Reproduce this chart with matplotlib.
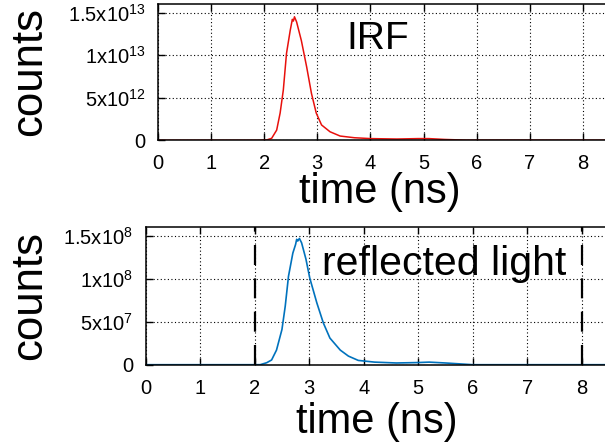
import matplotlib
matplotlib.use('Agg')
import matplotlib.pyplot as plt

plt.rcParams['font.family'] = ['Liberation Sans', 'DejaVu Sans']
plt.rcParams['mathtext.fontset'] = 'custom'
plt.rcParams['mathtext.rm'] = 'Liberation Sans'
plt.rcParams['mathtext.it'] = 'Liberation Sans:italic'
plt.rcParams['mathtext.bf'] = 'Liberation Sans:bold'
plt.rcParams['mathtext.default'] = 'regular'

# data
t_irf = [0, 1.9, 2.05, 2.14, 2.235, 2.30, 2.36, 2.42, 2.49, 2.53, 2.55, 2.57, 2.61,
         2.70, 2.80, 2.89, 2.98, 3.08, 3.24, 3.43, 3.7, 4.0, 4.5, 4.9, 5.1, 5.4, 5.8, 10]
irf = [0, 0, 0.05e12, 0.23e12, 1.2e12, 3.2e12, 5.9e12, 1.02e13, 1.29e13, 1.42e13,
       1.40e13, 1.45e13, 1.39e13, 1.17e13, 8.6e12, 5.5e12, 3.2e12, 1.8e12, 1.0e12,
       0.5e12, 0.3e12, 0.2e12, 0.15e12, 0.2e12, 0.2e12, 0.1e12, 0.02e12, 0]

t_refl = [0, 2.1, 2.22, 2.31, 2.40, 2.50, 2.56, 2.62, 2.70, 2.75, 2.77, 2.79, 2.82,
          2.86, 2.94, 3.01, 3.14, 3.26, 3.38, 3.57, 3.72, 3.9, 4.2, 4.6, 5.0, 5.2,
          5.5, 6.0, 10]
refl = [0, 0, 0.23e7, 0.55e7, 1.7e7, 4.1e7, 6.8e7, 1.03e8, 1.30e8, 1.40e8, 1.46e8,
        1.44e8, 1.47e8, 1.42e8, 1.23e8, 1.01e8, 7.2e7, 4.85e7, 3.1e7, 1.7e7, 1.0e7,
        0.5e7, 0.3e7, 0.2e7, 0.25e7, 0.3e7, 0.2e7, 0, 0]

xticks = list(range(0, 9))
irf_yticks = [0, 5e12, 1e13, 1.5e13]
irf_ylabels = ['0', '5x$10^{12}$', '1x$10^{13}$', '1.5x$10^{13}$']
refl_yticks = [0, 5e7, 1e8, 1.5e8]
refl_ylabels = ['0', '5x$10^{7}$', '1x$10^{8}$', '1.5x$10^{8}$']
gate = [2, 8]

W, H = 605, 445
fig = plt.figure(figsize=(W / 100, H / 100), dpi=100)


def px_axes(left, top, bottom, unit):
    # axes placed in pixel coords, running past the right edge like the cropped original
    return fig.add_axes([left / W, 1 - bottom / H, 10 * unit / W, (bottom - top) / H])


def style(ax, yt, yl, ymax):
    ax.set_xlim(0, 10)
    ax.set_ylim(0, ymax)
    ax.set_xticks(xticks)
    ax.set_yticks(yt)
    ax.set_yticklabels(yl)
    ax.tick_params(direction='in', top=True, right=True, length=5, width=1,
                   labelsize=14.5)
    ax.tick_params(axis='x', pad=10)
    ax.tick_params(axis='y', pad=9)
    ax.grid(True, color='black', linestyle=(0, (1, 2.2)), linewidth=0.8)
    for s in ax.spines.values():
        s.set_linewidth(1.1)


ax1 = px_axes(158, 4, 140.3, 53.1)
ax1.plot(t_irf, irf, color='#e8100c', lw=1.1)
style(ax1, irf_yticks, irf_ylabels, 1.6e13)
ax1.text(3.55, 1.066e13, 'IRF', fontsize=28, va='baseline')

ax2 = px_axes(145.7, 227.3, 364.7, 54.5)
ax2.plot(t_refl, refl, color='#0072bd', lw=1.2)
style(ax2, refl_yticks, refl_ylabels, 1.6e8)
for g in gate:
    ax2.axvline(g, color='black', lw=1.6, linestyle=(0, (9, 6)), zorder=3)
ax2.text(3.23, 1.05e8, 'reflected light', fontsize=29.5, va='baseline')

fig.text(30 / W, 1 - 71 / H, 'counts', rotation=90, fontsize=31.5, ha='center', va='center')
fig.text(30 / W, 1 - 296 / H, 'counts', rotation=90, fontsize=31.5, ha='center', va='center')
fig.text(380 / W, 1 - 203 / H, 'time (ns)', fontsize=30, ha='center', va='baseline')
fig.text(376.7 / W, 1 - 433 / H, 'time (ns)', fontsize=30, ha='center', va='baseline')

fig.savefig('out.png', dpi=100)
